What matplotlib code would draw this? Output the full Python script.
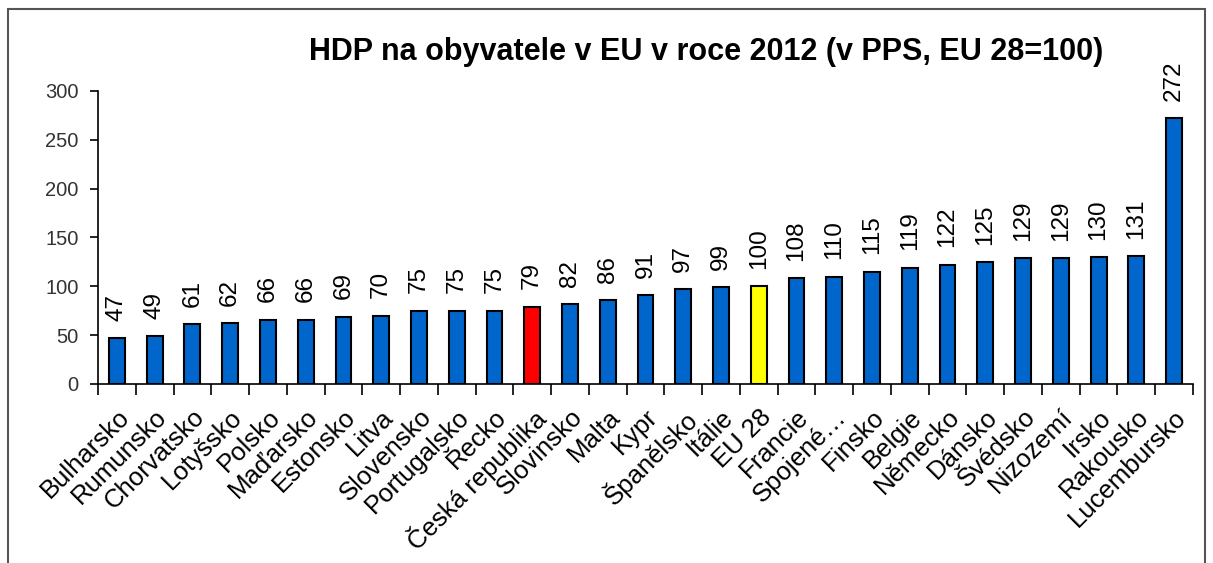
import matplotlib.pyplot as plt
from matplotlib.patches import Rectangle
import numpy as np

plt.rcParams['font.family'] = ['Liberation Sans', 'DejaVu Sans']

countries = ['Bulharsko', 'Rumunsko', 'Chorvatsko', 'Lotyšsko', 'Polsko', 'Maďarsko',
             'Estonsko', 'Litva', 'Slovensko', 'Portugalsko', 'Řecko', 'Česká republika',
             'Slovinsko', 'Malta', 'Kypr', 'Španělsko', 'Itálie', 'EU 28', 'Francie',
             'Spojené…', 'Finsko', 'Belgie', 'Německo', 'Dánsko', 'Švédsko', 'Nizozemí',
             'Irsko', 'Rakousko', 'Lucembursko']
hdp = [47, 49, 61, 62, 66, 66, 69, 70, 75, 75, 75, 79, 82, 86, 91, 97, 99, 100,
       108, 110, 115, 119, 122, 125, 129, 129, 130, 131, 272]

colors = []
for c in countries:
    if c == 'Česká republika':
        colors.append('#FF0000')
    elif c == 'EU 28':
        colors.append('#FFFF00')
    else:
        colors.append('#0066CC')

fig = plt.figure(figsize=(12.13, 5.63), dpi=100)
ax = fig.add_axes([0.0808, 0.318, 0.9027, 0.5204])

x = np.arange(len(countries))
bars = ax.bar(x, hdp, width=0.42, color=colors, edgecolor='black', linewidth=1.5, zorder=3)

for xi, v in zip(x, hdp):
    ax.annotate(str(v), (xi, v), xytext=(0, 12.5), textcoords='offset points',
                rotation=90, ha='center', va='bottom', fontsize=17.5)

ax.set_xlim(-0.5, len(countries) - 0.5)
ax.set_ylim(0, 300)
ax.set_yticks(range(0, 301, 50))
ax.tick_params(axis='y', labelsize=14.5, labelcolor='#333333', length=6, width=1.2, pad=8)

ax.set_xticks(x)
ax.set_xticklabels(countries, rotation=45, ha='right', rotation_mode='anchor', fontsize=18.5)
ax.tick_params(axis='x', length=0, pad=15)
ax.set_xticks(np.arange(-0.5, len(countries), 1), minor=True)
ax.tick_params(axis='x', which='minor', length=8, width=1.2, direction='out')

for s in ['top', 'right']:
    ax.spines[s].set_visible(False)
for s in ['left', 'bottom']:
    ax.spines[s].set_linewidth(1.2)

fig.text(0.582, 0.907, 'HDP na obyvatele v EU v roce 2012 (v PPS, EU 28=100)',
         ha='center', va='center', fontsize=22, fontweight='bold')

fig.patches.append(Rectangle((8 / 1213, -0.05), 1197 / 1213, 1.05 - 9 / 563,
                             transform=fig.transFigure, fill=False,
                             edgecolor='#555555', linewidth=1.5))

fig.savefig('out.png', dpi=100)
